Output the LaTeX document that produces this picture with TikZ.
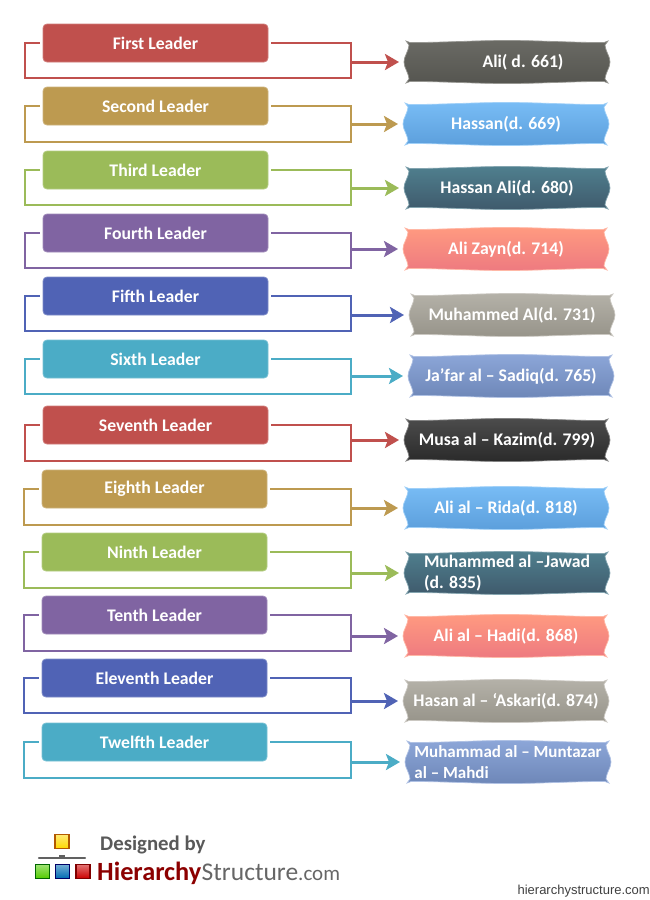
\documentclass[tikz,border=0pt]{standalone}
\usepackage{fontspec}
\setmainfont{Carlito}
\newfontfamily\footfont{Liberation Sans}
\usetikzlibrary{positioning, arrows.meta}
\pgfdeclarelayer{back}
\pgfsetlayers{back,main}
\definecolor{redc}{HTML}{C0504D}
\definecolor{tanc}{HTML}{BD9A50}
\definecolor{greenc}{HTML}{9BBB59}
\definecolor{purplec}{HTML}{8064A2}
\definecolor{bluec}{HTML}{5063B5}
\definecolor{cyanc}{HTML}{4BACC6}
\definecolor{stonetop}{HTML}{6A6A64}
\definecolor{stonebot}{HTML}{555550}
\definecolor{skytop}{HTML}{78BCF5}
\definecolor{skybot}{HTML}{5C9FDC}
\definecolor{tealtop}{HTML}{4F7F8E}
\definecolor{tealbot}{HTML}{3F5A6C}
\definecolor{salmontop}{HTML}{FF9A80}
\definecolor{salmonbot}{HTML}{EE7A80}
\definecolor{sandtop}{HTML}{B4B1A8}
\definecolor{sandbot}{HTML}{97948A}
\definecolor{slatetop}{HTML}{8CA6D8}
\definecolor{slatebot}{HTML}{6E87B8}
\definecolor{darktop}{HTML}{4C4C4C}
\definecolor{darkbot}{HTML}{2A2A2A}
\tikzset{
  leader/.style={rectangle, rounded corners=4pt, fill=#1, draw=#1!75!white, line width=.8pt,
    text=white, font=\fontsize{17.7}{20}\selectfont\bfseries,
    minimum width=225pt, minimum height=38pt, inner sep=0pt, outer sep=0pt},
  scroll/.style 2 args={minimum width=206pt, minimum height=43pt, inner sep=0pt, outer sep=0pt,
    text=white, align=left, font=\fontsize{17.7}{21}\selectfont\bfseries,
    append after command={\pgfextra{\begin{pgfinterruptpath}\begin{pgfonlayer}{back}
      \path[shift={(\tikzlastnode.center)}, top color=#1, bottom color=#2, draw=#1!70!white, line width=.7pt]
        (-101,21) -- (-97,19.5) .. controls (-60,19.5) and (-35,21.5) .. (0,21.5)
        .. controls (35,21.5) and (60,19.5) .. (97,19.5) -- (101,21)
        -- (98,17) .. controls (99,9) and (103,6) .. (103,0)
        .. controls (103,-6) and (99,-9) .. (98,-17) -- (101,-21)
        -- (97,-19.5) .. controls (60,-19.5) and (35,-21.5) .. (0,-21.5)
        .. controls (-35,-21.5) and (-60,-19.5) .. (-97,-19.5) -- (-101,-21)
        -- (-98,-17) .. controls (-99,-9) and (-103,-6) .. (-103,0)
        .. controls (-103,6) and (-99,9) .. (-98,17) -- cycle;
    \end{pgfonlayer}\end{pgfinterruptpath}}}},
  link/.style={line width=2.4pt, color=#1},
  arrow/.style={line width=3pt, color=#1, shorten >=5pt, -{Stealth[length=14pt, width=16pt, inset=3pt]}},
  logosq/.style 2 args={rectangle, minimum size=14pt, inner sep=0pt, draw=#2, line width=1.2pt, top color=#1!55!white, bottom color=#1}
}
\begin{document}
\begin{tikzpicture}[x=1pt, y=1pt]
        \useasboundingbox (0,0) rectangle (650,-900);
        % left column
        \node[leader=redc] (l1) at (155.5,-43) {First Leader};
        \node[leader=tanc] (l2) [below=25pt of l1] {Second Leader};
        \node[leader=greenc] (l3) [below=26pt of l2] {Third Leader};
        \node[leader=purplec] (l4) [below=25pt of l3] {Fourth Leader};
        \node[leader=bluec] (l5) [below=25pt of l4] {Fifth Leader};
        \node[leader=cyanc] (l6) [below=25pt of l5] {Sixth Leader};
        \node[leader=redc] (l7) [below=28pt of l6] {Seventh Leader};
        \node[leader=tanc] (l8) [below=26pt of l7, xshift=-1pt] {Eighth Leader};
        \node[leader=greenc] (l9) [below=25pt of l8] {Ninth Leader};
        \node[leader=purplec] (l10) [below=25pt of l9] {Tenth Leader};
        \node[leader=bluec] (l11) [below=25pt of l10] {Eleventh Leader};
        \node[leader=cyanc] (l12) [below=26pt of l11] {Twelfth Leader};
        % right column
        \node[scroll={stonetop}{stonebot}] (r1) [right=136pt of l1, yshift=-19pt] {\hspace*{32pt}Ali( d. 661)};
        \node[scroll={skytop}{skybot}] (r2) [right=135pt of l2, yshift=-18pt] {Hassan(d. 669)};
        \node[scroll={tealtop}{tealbot}] (r3) [right=136pt of l3, yshift=-18pt] {Hassan Ali(d. 680)};
        \node[scroll={salmontop}{salmonbot}] (r4) [right=135pt of l4, yshift=-16pt] {Ali Zayn(d. 714)};
        \node[scroll={sandtop}{sandbot}] (r5) [right=141pt of l5, yshift=-19pt] {Muhammed Al(d. 731)};
        \node[scroll={slatetop}{slatebot}] (r6) [right=140pt of l6, yshift=-17pt] {Ja’far al -- Sadiq(d. 765)};
        \node[scroll={darktop}{darkbot}] (r7) [right=136pt of l7, yshift=-15pt] {Musa al -- Kazim(d. 799)};
        \node[scroll={skytop}{skybot}] (r8) [right=136pt of l8, yshift=-19pt] {Ali al -- Rida(d. 818)};
        \node[scroll={tealtop}{tealbot}] (r9) [right=137pt of l9, yshift=-21pt] {Muhammed al --Jawad\\(d. 835)};
        \node[scroll={salmontop}{salmonbot}] (r10) [right=136pt of l10, yshift=-21pt] {Ali al -- Hadi(d. 868)};
        \node[scroll={sandtop}{sandbot}] (r11) [right=136pt of l11, yshift=-23pt] {Hasan al -- ‘Askari(d. 874)};
        \node[scroll={slatetop}{slatebot}, font=\fontsize{17}{21}\selectfont\bfseries] (r12) [right=138pt of l12, yshift=-20pt] {Muhammad al -- Muntazar\\al -- Mahdi};
        % brackets
        \draw[link=redc] ([xshift=3pt]l1.east) -- ++(80pt,0) -- ++(0,-19pt) coordinate (b1) -- ++(0,-16pt) -- ++(-326pt,0) |- ([xshift=-3pt]l1.west);
        \draw[link=tanc] ([xshift=3pt]l2.east) -- ++(80pt,0) -- ++(0,-18pt) coordinate (b2) -- ++(0,-18pt) -- ++(-326pt,0) |- ([xshift=-3pt]l2.west);
        \draw[link=greenc] ([xshift=3pt]l3.east) -- ++(80pt,0) -- ++(0,-18pt) coordinate (b3) -- ++(0,-17pt) -- ++(-326pt,0) |- ([xshift=-3pt]l3.west);
        \draw[link=purplec] ([xshift=3pt]l4.east) -- ++(80pt,0) -- ++(0,-16pt) coordinate (b4) -- ++(0,-19pt) -- ++(-326pt,0) |- ([xshift=-3pt]l4.west);
        \draw[link=bluec] ([xshift=3pt]l5.east) -- ++(80pt,0) -- ++(0,-19pt) coordinate (b5) -- ++(0,-16pt) -- ++(-326pt,0) |- ([xshift=-3pt]l5.west);
        \draw[link=cyanc] ([xshift=3pt]l6.east) -- ++(80pt,0) -- ++(0,-17pt) coordinate (b6) -- ++(0,-18pt) -- ++(-326pt,0) |- ([xshift=-3pt]l6.west);
        \draw[link=redc] ([xshift=3pt]l7.east) -- ++(80pt,0) -- ++(0,-15pt) coordinate (b7) -- ++(0,-21pt) -- ++(-326pt,0) |- ([xshift=-3pt]l7.west);
        \draw[link=tanc] ([xshift=3pt]l8.east) -- ++(81pt,0) -- ++(0,-19pt) coordinate (b8) -- ++(0,-17pt) -- ++(-327pt,0) |- ([xshift=-3pt]l8.west);
        \draw[link=greenc] ([xshift=3pt]l9.east) -- ++(81pt,0) -- ++(0,-21pt) coordinate (b9) -- ++(0,-15pt) -- ++(-327pt,0) |- ([xshift=-3pt]l9.west);
        \draw[link=purplec] ([xshift=3pt]l10.east) -- ++(81pt,0) -- ++(0,-21pt) coordinate (b10) -- ++(0,-15pt) -- ++(-327pt,0) |- ([xshift=-3pt]l10.west);
        \draw[link=bluec] ([xshift=3pt]l11.east) -- ++(81pt,0) -- ++(0,-23pt) coordinate (b11) -- ++(0,-12pt) -- ++(-327pt,0) |- ([xshift=-3pt]l11.west);
        \draw[link=cyanc] ([xshift=3pt]l12.east) -- ++(81pt,0) -- ++(0,-20pt) coordinate (b12) -- ++(0,-16pt) -- ++(-327pt,0) |- ([xshift=-3pt]l12.west);
        % arrows
        \draw[arrow=redc] (b1) -- (r1.west);
        \draw[arrow=tanc] (b2) -- (r2.west);
        \draw[arrow=greenc] (b3) -- (r3.west);
        \draw[arrow=purplec] (b4) -- (r4.west);
        \draw[arrow=bluec] (b5) -- (r5.west);
        \draw[arrow=cyanc] (b6) -- (r6.west);
        \draw[arrow=redc] (b7) -- (r7.west);
        \draw[arrow=tanc] (b8) -- (r8.west);
        \draw[arrow=greenc] (b9) -- (r9.west);
        \draw[arrow=purplec] (b10) -- (r10.west);
        \draw[arrow=bluec] (b11) -- (r11.west);
        \draw[arrow=cyanc] (b12) -- (r12.west);
        % logo
        \node[logosq={yellow!70!orange}{orange!70!black}] (top) at (62,-841.5) {};
        \node[logosq={green!60!yellow!80!black}{green!40!black}] (sqa) at (42.5,-871.5) {};
        \node[logosq={blue!40!cyan!70!black}{blue!40!black}] (sqb) [right=5pt of sqa] {};
        \node[logosq={red!80!black}{red!50!black}] (sqc) [right=5pt of sqb] {};
        \coordinate (barl) at (39,-858);
        \coordinate (barm) at (62,-856.8);
        \coordinate (barr) at (85,-858);
        \draw[line width=2.4pt, color=black!62, line cap=round] (barl) -- (barr);
        \draw[line width=3pt, color=black!62] ([xshift=-3pt]barm) -- ([xshift=3pt]barm);
        \node[font=\fontsize{20.8}{23}\selectfont\bfseries, text=black!65, anchor=west, inner sep=0pt] (des) at (100,-845) {Designed by};
        \node[font=\fontsize{26.3}{28}\selectfont\bfseries, text=red!55!black, anchor=west, inner sep=0pt] (hier) at (97,-873) {Hierarchy};
        \node[font=\fontsize{25.5}{28}\selectfont, text=black!60, anchor=base west, inner sep=0pt] (struct) at (hier.base east) {Structure\fontsize{21}{23}\selectfont.com};
        \node[font=\fontsize{13}{15}\selectfont\footfont, text=black!75, anchor=east, inner sep=0pt] (site) at (650,-891) {hierarchystructure.com};
      \end{tikzpicture}
\end{document}
